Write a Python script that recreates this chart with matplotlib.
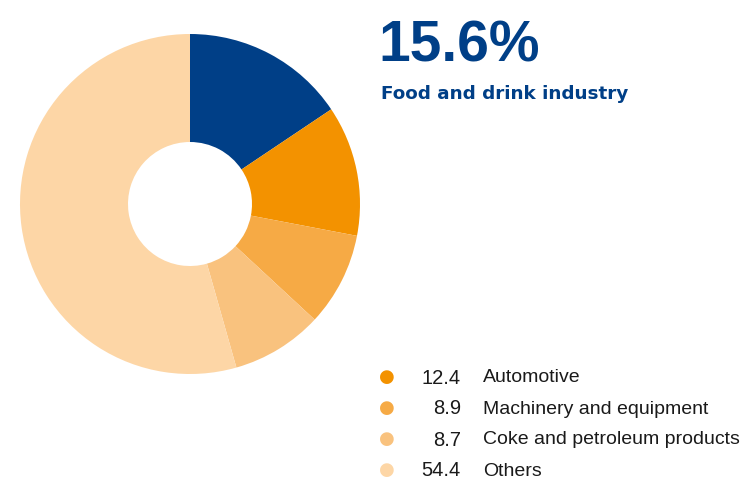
import matplotlib.pyplot as plt

# share of industry sectors (%)
sectors = ["Food and drink industry", "Automotive", "Machinery and equipment",
           "Coke and petroleum products", "Others"]
shares = [15.6, 12.4, 8.9, 8.7, 54.4]
colors = ["#003F87", "#F39200", "#F6AA45", "#F9C27E", "#FDD6A6"]

W, H = 751, 482
fig = plt.figure(figsize=(W / 100, H / 100), dpi=100)
plt.rcParams['font.family'] = ['Liberation Sans', 'DejaVu Sans']

# donut: centre (190, 204) px, outer radius 170 px, hole radius 62 px
cx, cy, r = 190, 204, 170
ax = fig.add_axes([(cx - r) / W, (H - cy - r) / H, 2 * r / W, 2 * r / H])
ax.pie(shares, colors=colors, startangle=90, counterclock=False,
       radius=1, wedgeprops=dict(width=(170 - 62) / 170, linewidth=0))
ax.set_xlim(-1, 1)
ax.set_ylim(-1, 1)
ax.axis("off")

def px(x, y):
    return x / W, 1 - y / H

# headline for the largest named sector
fig.text(*px(378, 62), f"{shares[0]}%", fontsize=41, fontweight="bold",
         color=colors[0], va="baseline", ha="left")
fig.text(*px(381, 99), sectors[0], fontsize=13.2, fontweight="bold",
         color=colors[0], va="baseline", ha="left", family="DejaVu Sans")

# legend for the remaining sectors
for i in range(1, len(sectors)):
    y = 376 + (i - 1) * 31
    fig.text(*px(379, y + 1), "\u25CF", fontsize=13, color=colors[i],
             va="center", ha="left", family="DejaVu Sans")
    fig.text(*px(461, y + 2), f"{shares[i]}", fontsize=14.5, color="#1a1a1a",
             va="center", ha="right")
    fig.text(*px(483, y + 2), sectors[i], fontsize=14, color="#1a1a1a",
             va="center", ha="left")

fig.savefig("out.png", dpi=100)
